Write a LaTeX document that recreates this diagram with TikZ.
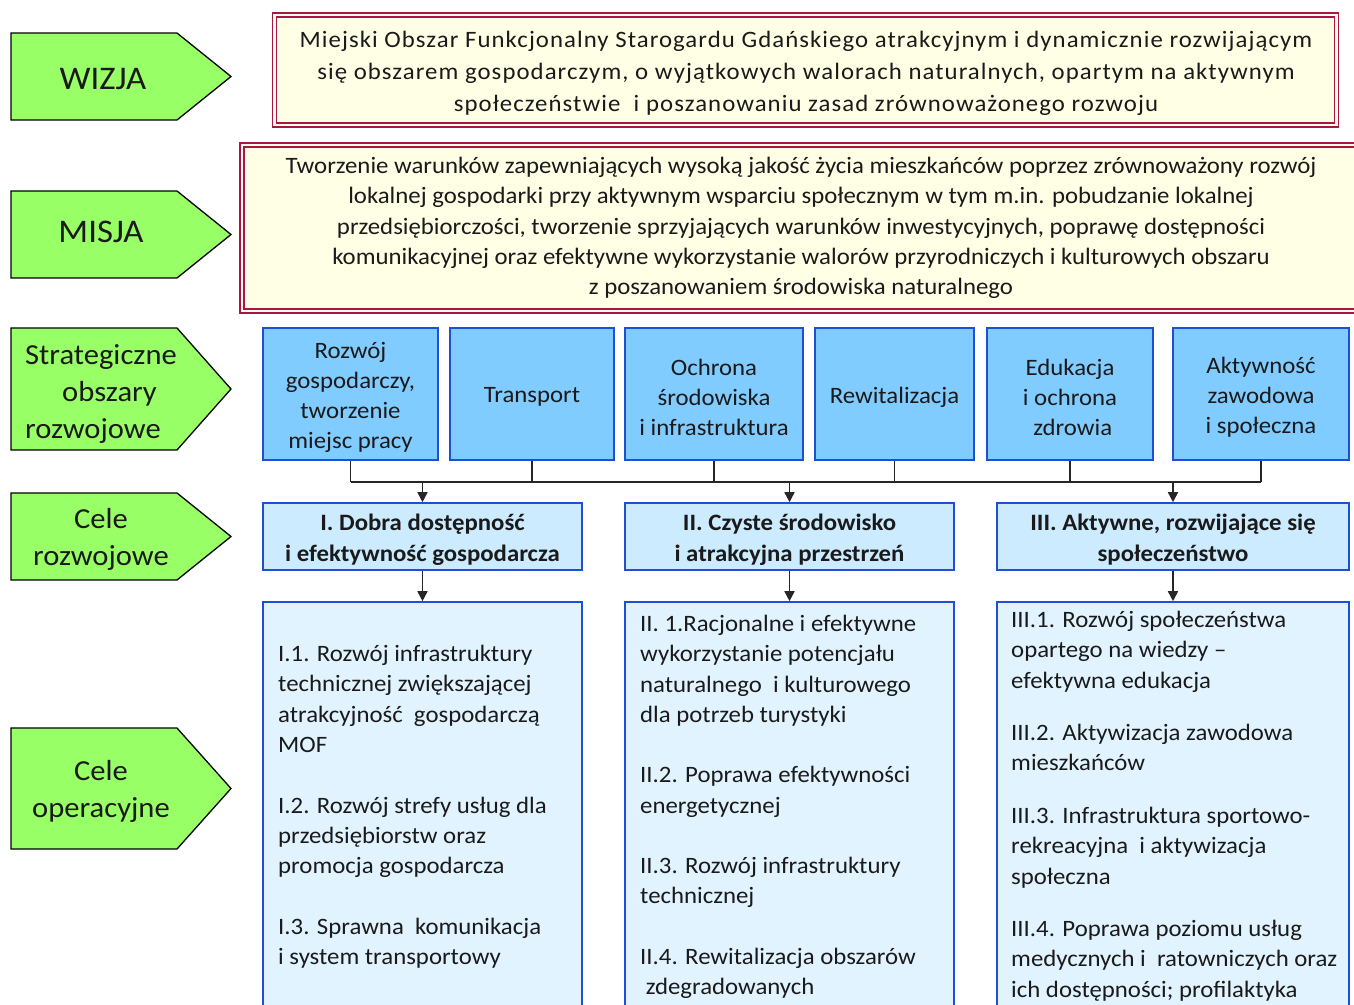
\documentclass[tikz,border=0pt]{standalone}
\usepackage{fontspec}
\setmainfont{Carlito}[FakeStretch=1.055]
\usetikzlibrary{arrows.meta}
\definecolor{grn}{HTML}{99FF66}
\definecolor{crim}{RGB}{170,20,70}
\definecolor{cream}{HTML}{FFFFE6}
\definecolor{sofill}{HTML}{80CBFF}
\definecolor{celefill}{HTML}{CCEBFF}
\definecolor{opfill}{HTML}{E1F3FF}
\definecolor{bblue}{RGB}{30,80,215}
\definecolor{txt}{HTML}{1A1A1A}
\begin{document}
\begin{tikzpicture}[x=1pt,y=-1pt,
  garrow/.style={draw=black, fill=grn, line width=1.3pt, line join=miter},
  gtext/.style={font=\fontsize{29}{37}\selectfont, align=center, text=txt, inner sep=0pt},
  gbig/.style={font=\fontsize{33}{37}\selectfont, text=txt, inner sep=0pt},
  redbox/.style={draw=crim, double=cream, double distance=2.6pt, line width=1.6pt, fill=cream, text=txt, align=center, inner sep=0pt},
  sobox/.style={draw=bblue, fill=sofill, line width=1.6pt, minimum height=132pt, text=txt, align=center, inner sep=0pt, font=\fontsize{23.5}{30}\selectfont},
  celebox/.style={draw=bblue, fill=celefill, line width=1.6pt, minimum height=67pt, text=txt, align=center, inner sep=0pt, font=\fontsize{23.5}{31}\selectfont\bfseries},
  opbox/.style={draw=bblue, fill=opfill, line width=1.6pt, minimum height=408pt, inner sep=0pt},
  optext/.style={anchor=north west, align=left, text=txt, inner sep=0pt, font=\fontsize{23.5}{30.3}\selectfont},
  conn/.style={draw=black!85, line width=1.6pt},
  arr/.style={conn, -{Triangle[width=10pt,length=10pt]}}
]
\useasboundingbox (0,0) rectangle (1354,1004);

% left arrows
\draw[garrow] (11,33) -- (177,33) -- (231,76.5) -- (177,120) -- (11,120) -- cycle;
\node[gbig] (lwizja) at (103,79) {WIZJA};
\draw[garrow] (11,191) -- (177,191) -- (231,234.5) -- (177,278) -- (11,278) -- cycle;
\node[gbig] (lmisja) at (101,232) {MISJA};
\draw[garrow] (11,328) -- (177,328) -- (231,389) -- (177,450) -- (11,450) -- cycle;
\node[gtext, align=left] (lso) at (101,394) {Strategiczne\\\hspace*{37pt}obszary\\rozwojowe};
\draw[garrow] (11,493) -- (177,493) -- (231,536.5) -- (177,580) -- (11,580) -- cycle;
\node[gtext] (lcr) at (101,539) {Cele\\rozwojowe};
\draw[garrow] (11,728) -- (177,728) -- (231,788.5) -- (177,849) -- (11,849) -- cycle;
\node[gtext] (lco) at (101,791) {Cele\\operacyjne};

% vision / mission
\node[redbox, minimum width=1062pt, minimum height=110pt, text depth=0pt] (wizja) at (805.5,70) {};
\node[text=txt, align=center, inner sep=0pt, font=\fontsize{23.5}{32}\addfontfeature{LetterSpace=4.5}\selectfont] (wizjat) at (806,73.5)
 {Miejski Obszar Funkcjonalny Starogardu Gdańskiego atrakcyjnym i dynamicznie rozwijającym\\
  się obszarem gospodarczym, o wyjątkowych walorach naturalnych, opartym na aktywnym\\
  społeczeństwie \ i poszanowaniu zasad zrównoważonego rozwoju};
\node[redbox, minimum width=1118pt, minimum height=166pt, font=\fontsize{23.5}{30.3}\selectfont] (misja) at (801,228)
 {Tworzenie warunków zapewniających wysoką jakość życia mieszkańców poprzez zrównoważony rozwój\\
  lokalnej gospodarki przy aktywnym wsparciu społecznym w tym m.in. pobudzanie lokalnej\\
  przedsiębiorczości, tworzenie sprzyjających warunków inwestycyjnych, poprawę dostępności\\
  komunikacyjnej oraz efektywne wykorzystanie walorów przyrodniczych i kulturowych obszaru\\
  z poszanowaniem środowiska naturalnego};

% strategic areas
\node[sobox, minimum width=175pt] (so1) at (350.5,394) {};
\node[sobox, minimum width=164pt] (so2) at (532,394) {};
\node[sobox, minimum width=178pt] (so3) at (714,394) {};
\node[sobox, minimum width=159pt] (so4) at (894.5,394) {};
\node[sobox, minimum width=166pt] (so5) at (1070,394) {};
\node[sobox, minimum width=176pt] (so6) at (1261,394) {};
\tikzset{sotext/.style={text=txt, align=center, inner sep=0pt, font=\fontsize{23.5}{30}\selectfont}}
\node[sotext] (so1t) at ([yshift=-3pt]so1.center) {Rozwój\\gospodarczy,\\tworzenie\\miejsc pracy};
\node[sotext] (so2t) at ([yshift=-3pt]so2.center) {Transport};
\node[sotext] (so3t) at ([yshift=-3pt]so3.center) {Ochrona\\środowiska\\i infrastruktura};
\node[sotext] (so4t) at ([yshift=-3pt]so4.center) {Rewitalizacja};
\node[sotext] (so5t) at ([yshift=-3pt]so5.center) {Edukacja\\i ochrona\\\ zdrowia};
\node[sotext] (so6t) at ([yshift=-3pt]so6.center) {Aktywność\\zawodowa\\i społeczna};

% development goals
\node[celebox, minimum width=319pt] (c1) at (422.5,536.5) {};
\node[celebox, minimum width=329pt] (c2) at (789.5,536.5) {};
\node[celebox, minimum width=352pt] (c3) at (1173,536.5) {};
\tikzset{celetext/.style={text=txt, align=center, inner sep=0pt, font=\fontsize{23.5}{31}\selectfont\bfseries}}
\node[celetext] (c1t) at ([yshift=-3pt]c1.center) {I. Dobra dostępność\\i efektywność gospodarcza};
\node[celetext] (c2t) at ([yshift=-3pt]c2.center) {II. Czyste środowisko\\i atrakcyjna przestrzeń};
\node[celetext] (c3t) at ([yshift=-3pt]c3.center) {III. Aktywne, rozwijające się\\społeczeństwo};

% operational goal boxes
\node[opbox, minimum width=319pt] (o1) at (422.5,806) {};
\node[opbox, minimum width=329pt] (o2) at (789.5,806) {};
\node[opbox, minimum width=352pt] (o3) at (1173,806) {};

\node[optext] (o1t) at (278,645)
 {I.1. Rozwój infrastruktury\\technicznej zwiększającej\\atrakcyjność \ gospodarczą\\MOF\\[30.5pt]
  I.2. Rozwój strefy usług dla\\przedsiębiorstw oraz\\promocja gospodarcza\\[30.5pt]
  I.3. Sprawna \ komunikacja\\i system transportowy};
\node[optext] (o2t) at (640,615)
 {II. 1.Racjonalne i efektywne\\wykorzystanie potencjału\\naturalnego \ i kulturowego\\dla potrzeb turystyki\\[30pt]
  II.2. Poprawa efektywności\\energetycznej\\[30pt]
  II.3. Rozwój infrastruktury\\technicznej\\[30.5pt]
  II.4. Rewitalizacja obszarów\\\ zdegradowanych};
\node[optext] (o3t) at (1011,611)
 {III.1. Rozwój społeczeństwa\\opartego na wiedzy --\\efektywna edukacja\\[22pt]
  III.2. Aktywizacja zawodowa\\mieszkańców\\[22.5pt]
  III.3. Infrastruktura sportowo-\\rekreacyjna \ i aktywizacja\\społeczna\\[22pt]
  III.4. Poprawa poziomu usług\\medycznych i \ ratowniczych oraz\\ich dostępności; profilaktyka};

% connectors
\coordinate (bus) at (0,482);
\foreach \s in {so1,so2,so3,so4,so5,so6} {
  \draw[conn] (\s.south) -- (\s.south |- bus);
}
\draw[conn] (so1.south |- bus) -- (so6.south |- bus);
\draw[arr] (c1.north |- bus) -- (c1.north);
\draw[arr] (c2.north |- bus) -- (c2.north);
\draw[arr] (c3.north |- bus) -- (c3.north);
\draw[arr] (c1.south) -- (o1.north);
\draw[arr] (c2.south) -- (o2.north);
\draw[arr] (c3.south) -- (o3.north);
\end{tikzpicture}
\end{document}
